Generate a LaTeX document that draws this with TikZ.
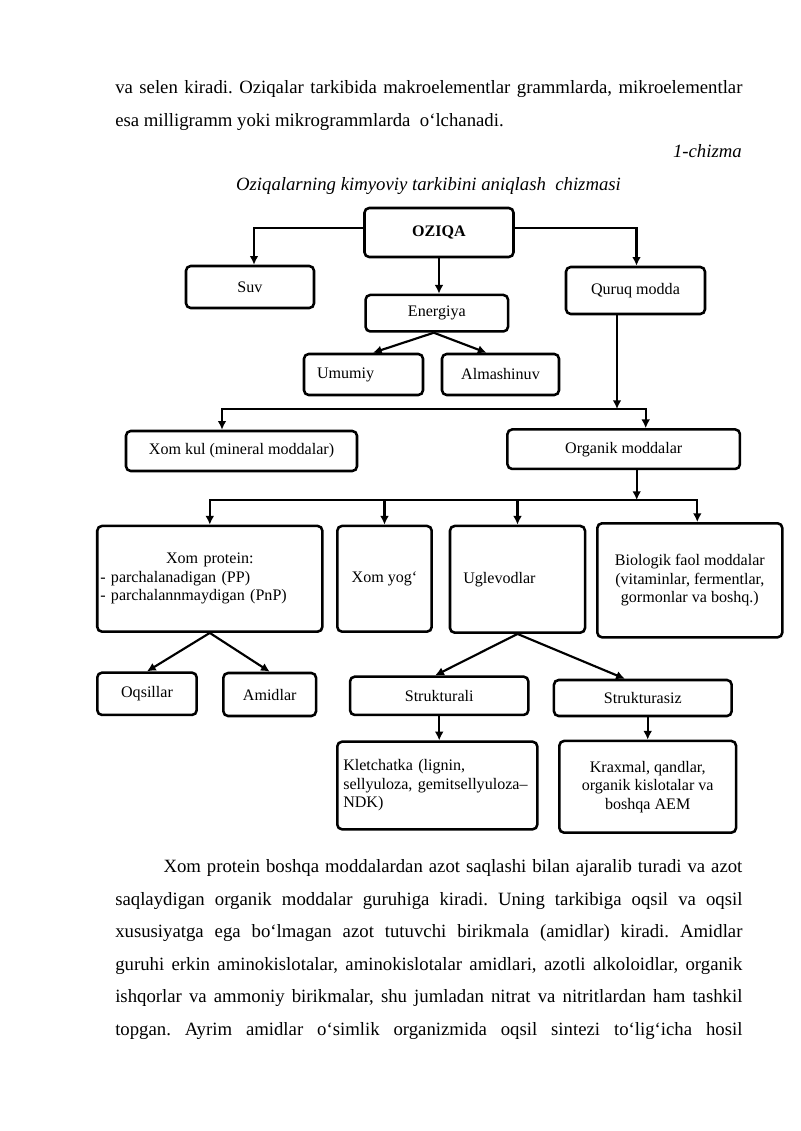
\documentclass[tikz,border=0pt]{standalone}
\usepackage{fontspec}
\setmainfont{Liberation Serif}
\usetikzlibrary{positioning,arrows.meta}
\frenchspacing
\newcommand{\pxu}{0.02625cm}
\newlength{\txtw}\setlength{\txtw}{16.46cm}
\newlength{\indw}\setlength{\indw}{15.19cm}

\begin{document}
\begin{tikzpicture}[x=\pxu, y=-\pxu,
  box/.style={draw, line width=1.9pt, rounded corners=3.5pt, align=center, inner sep=2pt, font=\fontsize{12}{13.8}\selectfont},
  sz/.style 2 args={minimum width=#1*\pxu, minimum height=#2*\pxu},
  arr/.style={line width=1.6pt, -{Latex[length=6.5pt,width=6.5pt]}},
  txt/.style={inner sep=0pt, anchor=base west, font=\fontsize{14}{16}\selectfont}]
  \useasboundingbox (0,0) rectangle (800,1131);

  \node[txt] (p1a) at (115,94) {\makebox[\txtw][s]{va selen kiradi. Oziqalar tarkibida makroelementlar grammlarda, mikroelementlar}};
  \node[txt] (p1b) at (115,126.7) {esa milligramm yoki mikrogrammlarda\ \ o‘lchanadi.};
  \node[txt, anchor=base east] (chizma) at (742,158) {\itshape 1-chizma};
  \node[txt, anchor=base] (title) at (428.5,190.7) {\itshape Oziqalarning kimyoviy tarkibini aniqlash\ \ chizmasi};

  \node[box, sz={149}{49}, font=\fontsize{12}{13.8}\selectfont\bfseries] (oziqa) at (439,232.5) {OZIQA};
  \node[box, sz={128}{42}] (suv) at (250,287) {Suv};
  \node[box, sz={139}{47}] (quruq) at (635.5,290.5) {Quruq modda};
  \node[box, sz={142.5}{36.5}] (energiya) at (436.8,313.2) {Energiya};
  \node[box, sz={119}{41}, align=left, text width=2.44cm, inner xsep=0.341cm] (umumiy) at (363.5,374.5) {Umumiy};
  \node[box, sz={117}{41}] (almash) at (500.5,374.5) {Almashinuv};
  \node[box, sz={231}{40}] (xomkul) at (241.5,451) {Xom kul (mineral moddalar)};
  \node[box, sz={232.5}{39.5}] (organik) at (623.7,449.2) {Organik moddalar};
  \node[box, sz={225}{105.7}, align=left, text width=5.749cm, inner xsep=0.079cm] (protein) at (209.8,578.8)
    {\hfill Xom protein:\hfill\null\\- parchalanadigan (PP)\\- parchalannmaydigan (PnP)};
  \node[box, sz={94.4}{105.7}] (yog) at (384.5,578.8) {Xom yog‘};
  \node[box, sz={135}{106.7}, align=left, text width=2.846cm, inner xsep=0.349cm] (uglevod) at (517.5,579.3) {Uglevodlar};
  \node[box, sz={185}{114}] (biolog) at (689.8,580.3) {Biologik faol moddalar\\(vitaminlar, fermentlar,\\gormonlar va boshq.)};
  \node[box, sz={99.4}{42.3}] (oqsil) at (147,693.8) {Oqsillar};
  \node[box, sz={92.7}{43}] (amid) at (269.7,694.5) {Amidlar};
  \node[box, sz={178.3}{38.3}] (strukt) at (439.2,695.8) {Strukturali};
  \node[box, sz={177.7}{36}] (struksiz) at (642.8,698) {Strukturasiz};
  \node[box, sz={200}{87.6}, align=left, text width=4.935cm, inner xsep=0.1575cm] (kletch) at (437.3,785.5)
    {Kletchatka (lignin,\\sellyuloza, gemitsellyuloza–\\NDK)};
  \node[box, sz={176.7}{91.7}] (kraxmal) at (647.7,786.8) {Kraxmal, qandlar,\\organik kislotalar va\\boshqa AEM};

  \draw[arr] ([shift={(0,-4.5)}]oziqa.west) -| ([shift={(4,0)}]suv.north);
  \draw[arr] ([shift={(0,-4.5)}]oziqa.east) -| ([shift={(1,0)}]quruq.north);
  \draw[arr] (oziqa.south) -- (energiya.north -| oziqa.south);
  \coordinate (eapex) at ([shift={(-3,0)}]energiya.south);
  \draw[arr] (eapex) -- ([shift={(9.5,0)}]umumiy.north);
  \draw[arr] (eapex) -- ([shift={(-14,0)}]almash.north);

  \coordinate (rail1) at (431,409);
  \coordinate (qdown) at ([shift={(-18.5,0)}]quruq.south);
  \draw[arr] (qdown) -- (qdown |- rail1);
  \draw[arr] (rail1) -| ([shift={(-19.5,0)}]xomkul.north);
  \draw[arr] (rail1) -| ([shift={(22,0)}]organik.north);

  \coordinate (odown) at ([shift={(13,0)}]organik.south);
  \coordinate (rail2) at (636.7,500);
  \draw[arr] (odown) -- (rail2);
  \foreach \n in {protein,yog,uglevod}
    \draw[arr] (rail2) -| (\n.north);
  \draw[arr] (rail2) -| ([shift={(7.5,0)}]biolog.north);

  \draw[arr] (protein.south) -- (oqsil.north);
  \draw[arr] (protein.south) -- (amid.north);
  \draw[arr] (uglevod.south) -- ([shift={(-4,0)}]strukt.north);
  \draw[arr] (uglevod.south) -- ([shift={(-18,0)}]struksiz.north);
  \draw[arr] (strukt.south) -- (kletch.north -| strukt.south);
  \draw[arr] (kraxmal.north |- struksiz.south) -- (kraxmal.north);

  \node[txt] (p2a) at (163.3,872.3) {\makebox[\indw][s]{Xom protein boshqa moddalardan azot saqlashi bilan ajaralib turadi va azot}};
  \foreach \yy/\txt [count=\i] in {
      905/{saqlaydigan organik moddalar guruhiga kiradi. Uning tarkibiga oqsil va oqsil},
      937.7/{xususiyatga ega bo‘lmagan azot tutuvchi birikmala (amidlar) kiradi. Amidlar},
      970/{guruhi erkin aminokislotalar, aminokislotalar amidlari, azotli alkoloidlar, organik},
      1002.3/{ishqorlar va ammoniy birikmalar, shu jumladan nitrat va nitritlardan ham tashkil},
      1035/{topgan. Ayrim amidlar o‘simlik organizmida oqsil sintezi to‘lig‘icha hosil}}
    \node[txt] (p2l\i) at (115,\yy) {\makebox[\txtw][s]{\txt}};
\end{tikzpicture}
\end{document}
